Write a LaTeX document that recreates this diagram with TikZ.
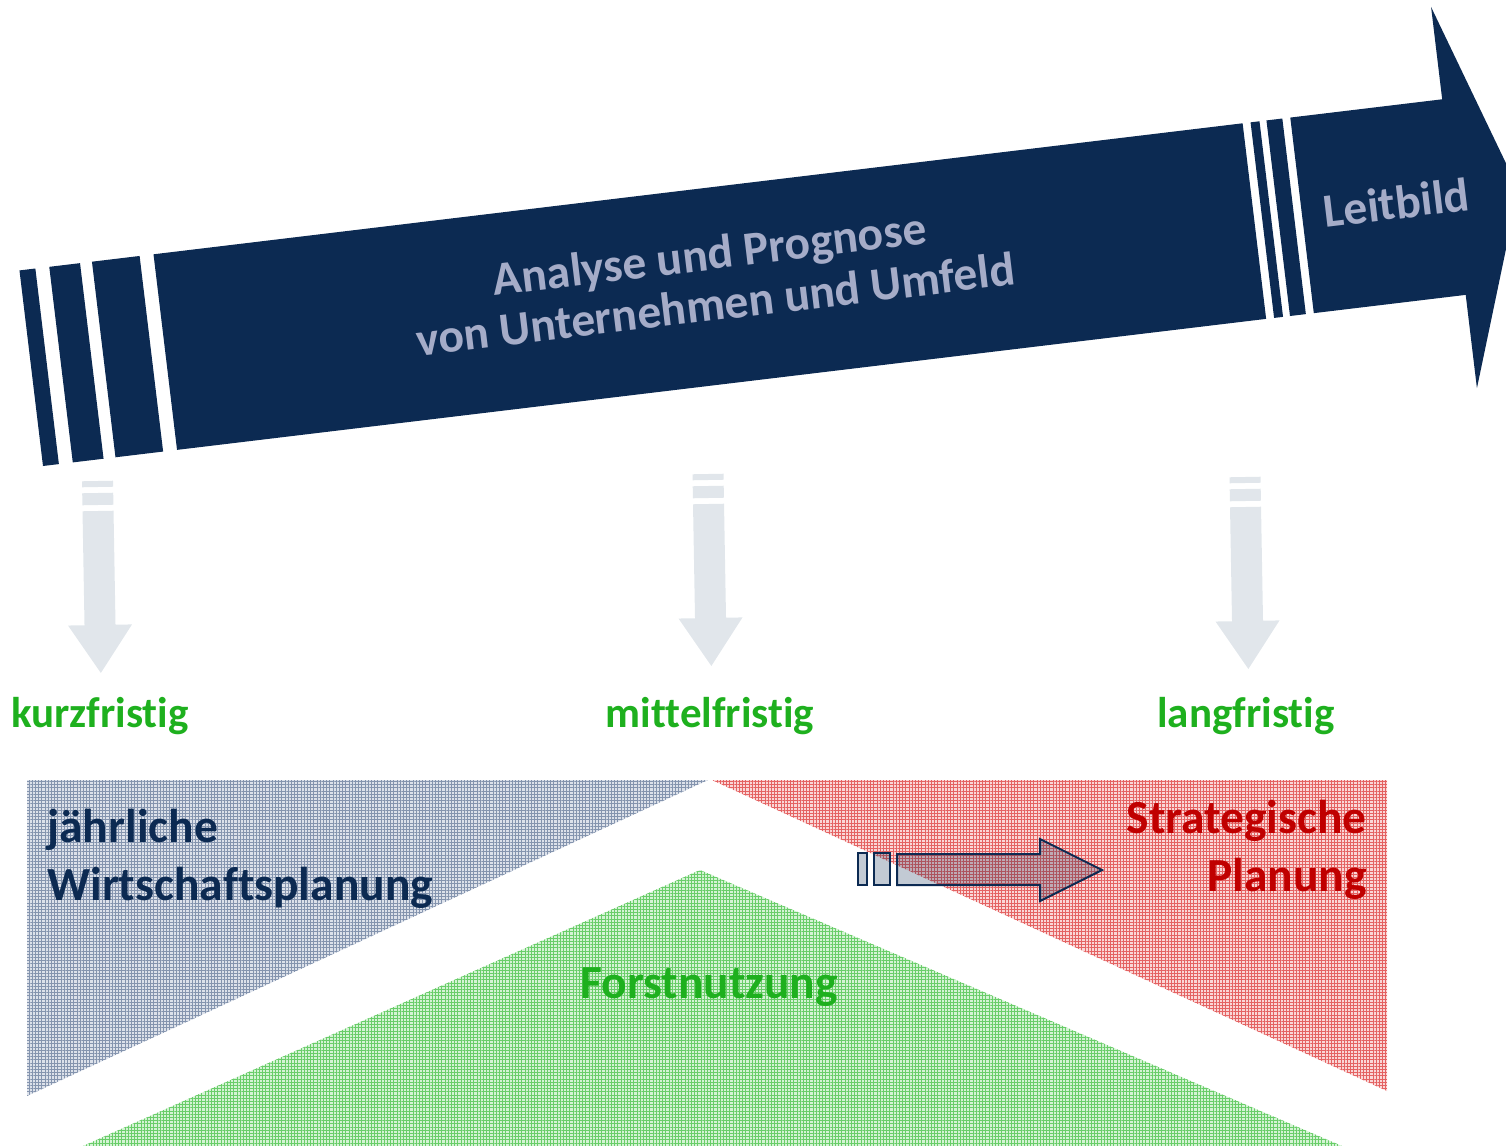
\documentclass[tikz,border=0pt]{standalone}
\usepackage{fontspec}
\setmainfont{Carlito}[Ligatures=NoCommon]
\usetikzlibrary{patterns.meta}
\definecolor{navy}{RGB}{12,42,82}
\definecolor{arrowtext}{RGB}{165,172,200}
\definecolor{lightarrow}{RGB}{225,230,235}
\definecolor{labelgreen}{RGB}{30,176,30}
\definecolor{darkred}{RGB}{192,0,0}
\definecolor{bluebase}{RGB}{220,225,234}
\definecolor{blueline}{RGB}{132,148,174}
\definecolor{redbase}{RGB}{250,214,214}
\definecolor{redline}{RGB}{228,98,98}
\definecolor{greenbase}{RGB}{212,243,212}
\definecolor{greenline}{RGB}{105,205,105}
\tikzset{
  bigbar/.style={fill=navy},
  arrowlabel/.style={text=arrowtext, font=\fontsize{23.75}{25.5}\selectfont\bfseries, inner sep=0pt},
  downarrow/.style={fill=lightarrow},
  termlabel/.style={text=labelgreen, font=\fontsize{21.5}{26}\selectfont\bfseries, inner sep=0pt, anchor=base},
  areatext/.style={font=\fontsize{23.75}{29}\selectfont\bfseries, inner sep=0pt},
  bluearea/.style={preaction={fill=bluebase}, pattern={Hatch[angle=0,distance=1.6pt,line width=0.28pt]}, pattern color=blueline},
  redarea/.style={preaction={fill=redbase}, pattern={Hatch[angle=0,distance=1.6pt,line width=0.28pt]}, pattern color=redline},
  greenarea/.style={preaction={fill=greenbase}, pattern={Hatch[angle=0,distance=1.6pt,line width=0.28pt]}, pattern color=greenline},
  smallarrow/.style={draw=navy, line width=1pt, fill=navy, fill opacity=0.25, line join=miter}
}
\begin{document}
\begin{tikzpicture}[x=0.5pt,y=-0.5pt]
\useasboundingbox (0,0) rectangle (1506,1146);
\clip (0,0) rectangle (1506,1146);

% big tilted arrow
\begin{scope}[shift={(43,466)}, rotate=6.86, transform shape]
  \fill[bigbar] (0,0) rectangle (16,-197);
  \fill[bigbar] (30,0) rectangle (61,-197);
  \fill[bigbar] (73,0) rectangle (121,-197);
  \fill[bigbar] (135,0) rectangle (1232,-197);
  \fill[bigbar] (1240,0) rectangle (1249,-197);
  \fill[bigbar] (1256,0) rectangle (1272,-197);
  \fill[bigbar] (1280,0) -- (1433,0) -- (1433,94) -- (1498,-98.5) -- (1433,-290) -- (1433,-197) -- (1280,-197) -- cycle;
  \node[arrowlabel, align=center] (analyse) at (687,-106) {Analyse und Prognose\\von Unternehmen und Umfeld};
  \node[arrowlabel] (leitbild) at (1375,-100) {Leitbild};
\end{scope}

% light down arrows
\foreach \ax/\ay in {97.5/481, 708/474, 1245/477}{
  \begin{scope}[shift={(\ax,\ay)}, rotate=1]
    \fill[downarrow] (-15.5,0) rectangle (15.5,6);
    \fill[downarrow] (-15.5,12) rectangle (15.5,24);
    \fill[downarrow] (-15.5,30) -- (15.5,30) -- (15.5,144) -- (32,144) -- (0,192) -- (-32,144) -- (-15.5,144) -- cycle;
  \end{scope}
}

% time labels
\node[termlabel] (kurz) at (100,727) {kurzfristig};
\node[termlabel] (mittel) at (710,727) {mittelfristig};
\node[termlabel] (lang) at (1246,727) {langfristig};

% planning areas
\path[bluearea] (27,780) -- (708,780) -- (27,1096) -- cycle;
\path[redarea] (712,780) -- (1387,780) -- (1387,1091) -- cycle;
\path[greenarea] (700,870) -- (1342,1146) -- (83,1146) -- cycle;

\node[areatext, text=navy, align=left, anchor=base west] (jahr) at (47,900) {jährliche\\Wirtschaftsplanung};
\node[areatext, text=darkred, align=right, anchor=base east] (strat) at (1367,891) {Strategische\\Planung};
\node[areatext, text=labelgreen, anchor=base] (forst) at (709,998) {Forstnutzung};

% small arrow
\path[smallarrow] (858,853) rectangle (867,885);
\path[smallarrow] (874,853) rectangle (890,885);
\path[smallarrow] (897,854) -- (1040,854) -- (1040,839) -- (1102,870) -- (1040,901) -- (1040,885) -- (897,885) -- cycle;
\end{tikzpicture}
\end{document}
